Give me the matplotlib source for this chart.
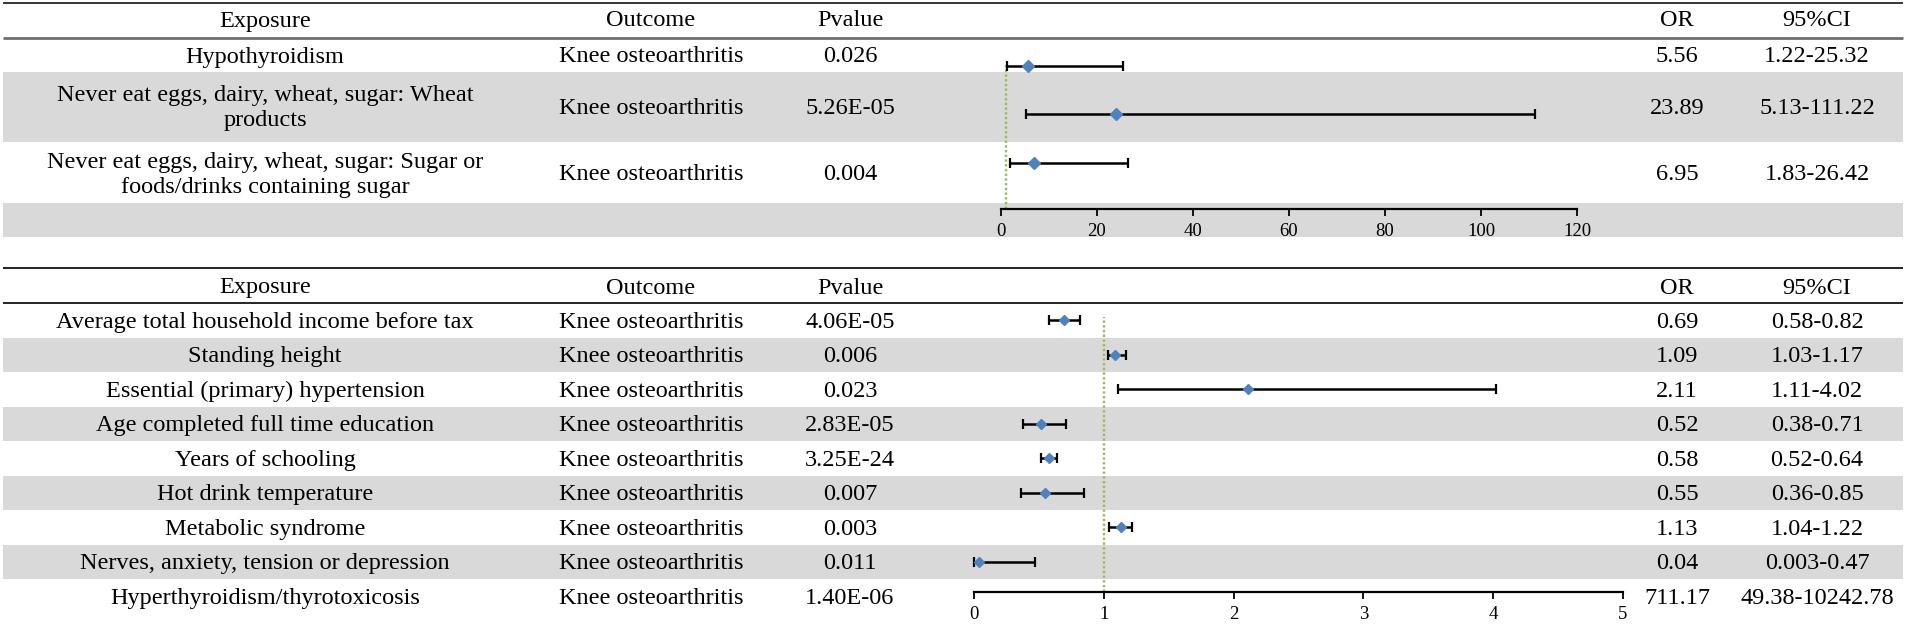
import matplotlib
matplotlib.use("Agg")
import matplotlib.pyplot as plt
from matplotlib.patches import Rectangle

plt.rcParams['font.family'] = ['Liberation Serif', 'DejaVu Serif']

# ---------------- data ----------------
headers = ["Exposure", "Outcome", "Pvalue", "OR", "95%CI"]

top_exposure = [
    "Hypothyroidism",
    "Never eat eggs, dairy, wheat, sugar: Wheat\nproducts",
    "Never eat eggs, dairy, wheat, sugar: Sugar or\nfoods/drinks containing sugar",
]
top_outcome = ["Knee osteoarthritis", "Knee osteoarthritis", "Knee osteoarthritis"]
top_pvalue = ["0.026", "5.26E-05", "0.004"]
top_or = [5.56, 23.89, 6.95]
top_lo = [1.22, 5.13, 1.83]
top_hi = [25.32, 111.22, 26.42]
top_ci = ["1.22-25.32", "5.13-111.22", "1.83-26.42"]
top_ticks = [0, 20, 40, 60, 80, 100, 120]

bot_exposure = [
    "Average total household income before tax",
    "Standing height",
    "Essential (primary) hypertension",
    "Age completed full time education",
    "Years of schooling",
    "Hot drink temperature",
    "Metabolic syndrome",
    "Nerves, anxiety, tension or depression",
    "Hyperthyroidism/thyrotoxicosis",
]
bot_outcome = ["Knee osteoarthritis"] * 9
bot_pvalue = ["4.06E-05", "0.006", "0.023", "2.83E-05", "3.25E-24",
              "0.007", "0.003", "0.011", "1.40E-06"]
bot_or = [0.69, 1.09, 2.11, 0.52, 0.58, 0.55, 1.13, 0.04, 711.17]
bot_lo = [0.58, 1.03, 1.11, 0.38, 0.52, 0.36, 1.04, 0.003, 49.38]
bot_hi = [0.82, 1.17, 4.02, 0.71, 0.64, 0.85, 1.22, 0.47, 10242.78]
bot_ci = ["0.58-0.82", "1.03-1.17", "1.11-4.02", "0.38-0.71", "0.52-0.64",
          "0.36-0.85", "1.04-1.22", "0.003-0.47", "49.38-10242.78"]
bot_ticks = [0, 1, 2, 3, 4, 5]

ref_value = 1

# ---------------- layout ----------------
W, H, DPI = 1907, 626, 100
FS = 17.5
TFS = 13.5
GRAY = "#D9D9D9"
BLUE = "#4F81BD"
REFCOL = "#9BBB59"
col_x = [265, 651, 850, 1677, 1817]
X0, X1 = 3, 1903

fig = plt.figure(figsize=(W / DPI, H / DPI), dpi=DPI)
bg = fig.add_axes([0, 0, 1, 1])
bg.set_xlim(0, W)
bg.set_ylim(H, 0)
bg.axis("off")

def band(y0, y1):
    bg.add_patch(Rectangle((X0, y0), X1 - X0, y1 - y0, facecolor=GRAY,
                           edgecolor="none", zorder=0))

def hline(y, color="black", lw=1.2):
    bg.plot([X0, X1], [y, y], color=color, lw=lw, zorder=2,
            solid_capstyle="butt")

def row_text(y, vals):
    for x, v in zip(col_x, vals):
        if v:
            bg.text(x, y, v, ha="center", va="center", fontsize=FS,
                    multialignment="center", linespacing=1.25, zorder=3)

# ---- top panel table ----
band(72, 142)
band(203, 237)
hline(3, "black", 1.1)
hline(38, "#707070", 2.0)
row_text(21, headers)
top_y = [57, 108, 175]
for i in range(len(top_exposure)):
    row_text(top_y[i], [top_exposure[i], top_outcome[i], top_pvalue[i],
                        f"{top_or[i]:.2f}", top_ci[i]])

# ---- bottom panel table ----
RT, RH = 303, 34.5
for i in range(len(bot_exposure)):
    if i % 2 == 1:
        band(RT + RH * i, RT + RH * (i + 1))
hline(268, "black", 1.2)
hline(303, "black", 1.2)
row_text(288, headers)
for i in range(len(bot_exposure)):
    row_text(RT + RH * (i + 0.5) + 2,
             [bot_exposure[i], bot_outcome[i], bot_pvalue[i],
              f"{bot_or[i]:.2f}", bot_ci[i]])

# ---------------- forest axes ----------------
def forest(x0px, pxu, xmin, xmax, ybot_px, ytop_px, pyu, yoff,
           ors, los, his, ticks, ref_top, ms, first_y):
    left = x0px + xmin * pxu
    width = (xmax - xmin) * pxu
    ax = fig.add_axes([left / W, (H - ybot_px) / H, width / W,
                       (ybot_px - ytop_px) / H])
    ax.set_xlim(xmin, xmax)
    ax.set_ylim(yoff, yoff + (ybot_px - ytop_px) / pyu)
    ax.patch.set_alpha(0)
    ys = [first_y - i for i in range(len(ors))]
    xerr = [[o - l for o, l in zip(ors, los)], [h - o for o, h in zip(ors, his)]]
    ax.plot([ref_value, ref_value], [yoff, ref_top], linestyle=(0, (1, 1)),
            color=REFCOL, lw=1.7, zorder=1)
    ax.errorbar(ors, ys, xerr=xerr, fmt="D", color=BLUE, mec=BLUE, ms=ms,
                ecolor="black", elinewidth=1.8, capsize=3.3, capthick=1.6,
                zorder=3)
    for s in ["top", "right", "left"]:
        ax.spines[s].set_visible(False)
    ax.spines["bottom"].set_bounds(ticks[0], ticks[-1])
    ax.spines["bottom"].set_linewidth(1.6)
    ax.set_xticks(ticks)
    ax.set_xticklabels([str(t) for t in ticks])
    ax.tick_params(axis="x", direction="out", length=5, width=1.3,
                   labelsize=TFS, pad=5)
    ax.set_yticks([])
    return ax

forest(1001, 4.8, -2, 122, 209, 39, 48.5, 0.05,
       top_or, top_lo, top_hi, top_ticks, 3.07, 5.8, 3)
forest(974, 129.8, -0.1, 5.1, 592, 305, 34.5, 0.116,
       bot_or, bot_lo, bot_hi, bot_ticks, 8.1, 5.4, 8)

fig.savefig("out.png", dpi=DPI)
